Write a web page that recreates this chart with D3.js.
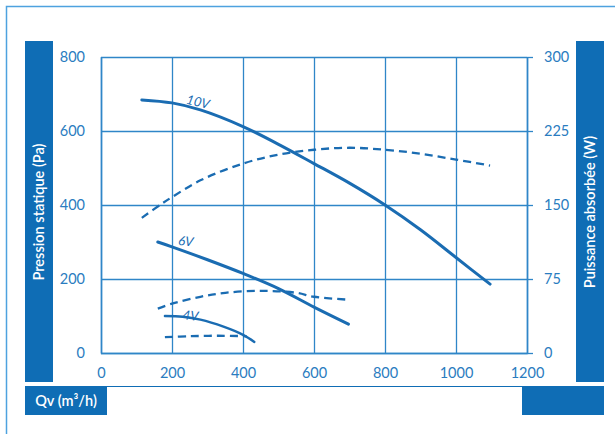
<!DOCTYPE html>
<html><head><meta charset="utf-8">
<script src="https://cdn.jsdelivr.net/npm/d3@7"></script>
<style>
html,body{margin:0;padding:0;background:#fff;}
svg{display:block;font-family:Lato,"Open Sans",sans-serif;}
</style></head>
<body>
<svg id="chart" width="615" height="434"></svg>
<script>
// ---- Data ----
const xTicks = [0, 200, 400, 600, 800, 1000, 1200];
const pTicks = [0, 200, 400, 600, 800];
const wTicks = [0, 75, 150, 225, 300];
const leftTitle = "Pression statique (Pa)";
const rightTitle = "Puissance absorbée (W)";
const xTitle = "Qv (m³/h)";

// Pressure curves (Qv m3/h, Pa)
const p10V = [[115,684],[200,676],[280,657],[400,612],[500,564],[600,512],[700,459],[800,400],[900,333],[1000,258],[1096,186]];
const p6V  = [[160,300],[200,287],[300,252],[400,215],[500,174],[600,124],[697,78]];
const p4V  = [[180,100],[230,98],[280,90],[345,71],[400,49],[432,30]];
// Power curves (Qv m3/h, W)
const w10V = [[115,137],[170,151],[200,158],[280,175],[400,192],[500,201],[600,206],[700,208],[800,206],[900,202],[1000,196],[1096,190]];
const w6V  = [[160,45],[200,50],[280,57],[350,61],[450,63],[550,61],[600,57],[697,54]];
const w4V  = [[180,16],[250,17],[330,17.5],[410,17]];
const curveLabels = [
  {text:"10V", x:270, p:667, rot:14},
  {text:"6V",  x:237, p:290, rot:8},
  {text:"4V",  x:251, p:89,  rot:6}
];

// ---- Layout ----
const svg = d3.select("#chart");
const L = 101, R = 527, T = 57, B = 353;
const blue = "#0f6db5", grid = "#2f86c8", curveCol = "#1a6cb2", txt = "#2a7cc0";

const x = d3.scaleLinear().domain([0,1200]).range([L,R]);
const yP = d3.scaleLinear().domain([0,800]).range([B,T]);
const yW = d3.scaleLinear().domain([0,300]).range([B,T]);

// outer frame
svg.append("path").attr("d","M6.5,434 V6.5 H615").attr("fill","none").attr("stroke","#4ea2df").attr("stroke-width",1.5);

// side bars
svg.append("rect").attr("x",25).attr("y",41).attr("width",28).attr("height",341).attr("fill",blue);
svg.append("rect").attr("x",576).attr("y",41).attr("width",28).attr("height",341).attr("fill",blue);
// bottom boxes and connecting line
svg.append("line").attr("x1",25).attr("x2",604).attr("y1",386.5).attr("y2",386.5).attr("stroke",blue).attr("stroke-width",1.2);
svg.append("rect").attr("x",25).attr("y",386).attr("width",82).attr("height",29).attr("fill",blue);
svg.append("rect").attr("x",522).attr("y",386).attr("width",82).attr("height",29).attr("fill",blue);

// titles
svg.append("text").attr("transform","translate(44,212) rotate(-90)").attr("text-anchor","middle")
  .attr("fill","#fff").attr("font-size",14.5).attr("font-weight",600).text(leftTitle);
svg.append("text").attr("transform","translate(595,212) rotate(-90)").attr("text-anchor","middle")
  .attr("fill","#fff").attr("font-size",14.5).attr("font-weight",600).text(rightTitle);
svg.append("text").attr("x",66).attr("y",406).attr("text-anchor","middle")
  .attr("fill","#fff").attr("font-size",14.5).attr("font-weight",600).text(xTitle);

// grid + axes
const gx = svg.append("g").attr("transform",`translate(0,${B})`)
  .call(d3.axisBottom(x).tickValues(xTicks).tickSize(-(B-T)).tickPadding(15).tickFormat(d3.format("d")));
const gl = svg.append("g").attr("transform",`translate(${L},0)`)
  .call(d3.axisLeft(yP).tickValues(pTicks).tickSizeInner(-(R-L)).tickSizeOuter(0).tickPadding(16));
const gr = svg.append("g").attr("transform",`translate(${R},0)`)
  .call(d3.axisRight(yW).tickValues(wTicks).tickSizeInner(6).tickSizeOuter(0).tickPadding(11));
[gx,gl,gr].forEach(g=>{
  g.select(".domain").attr("stroke",grid).attr("stroke-width",1.3);
  g.selectAll(".tick line").attr("stroke",grid).attr("stroke-width",1.3);
  g.selectAll(".tick text").attr("fill",txt).attr("font-size",14.5).attr("font-family","Lato,sans-serif");
});

// curves
const lineP = d3.line().x(d=>x(d[0])).y(d=>yP(d[1])).curve(d3.curveCatmullRom.alpha(0.5));
const lineW = d3.line().x(d=>x(d[0])).y(d=>yW(d[1])).curve(d3.curveCatmullRom.alpha(0.5));
[p10V,p6V,p4V].forEach((s,i)=>{
  svg.append("path").attr("d",lineP(s)).attr("fill","none").attr("stroke",curveCol)
    .attr("stroke-width",i===2?2.4:3).attr("stroke-linecap","round");
});
[w10V,w6V,w4V].forEach(s=>{
  svg.append("path").attr("d",lineW(s)).attr("fill","none").attr("stroke",curveCol)
    .attr("stroke-width",2.3).attr("stroke-dasharray","8,5");
});

// curve labels
curveLabels.forEach(c=>{
  svg.append("text").attr("transform",`translate(${x(c.x)},${yP(c.p)}) rotate(${c.rot})`)
    .attr("text-anchor","middle").attr("fill",curveCol).attr("font-size",13).attr("font-style","italic").text(c.text);
});
</script>
</body></html>
